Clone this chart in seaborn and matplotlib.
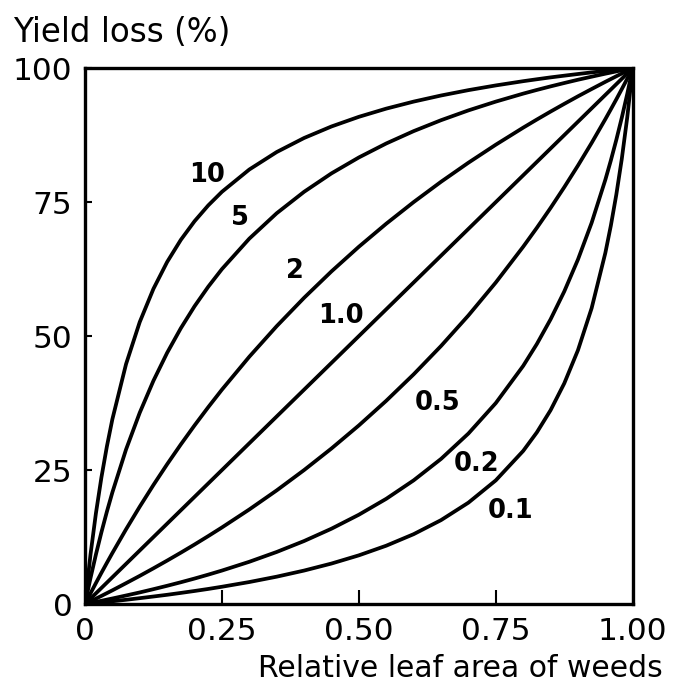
import matplotlib
matplotlib.use("Agg")
import matplotlib.pyplot as plt
import seaborn as sns
import pandas as pd

# Relative leaf area of weeds (x) and yield loss (%) for each relative damage coefficient q
leaf_area = [0, 0.01, 0.02, 0.03, 0.04, 0.05, 0.075, 0.10, 0.125, 0.15, 0.175, 0.20,
             0.225, 0.25, 0.30, 0.35, 0.40, 0.45, 0.50, 0.55, 0.60, 0.65, 0.70, 0.75,
             0.80, 0.825, 0.85, 0.875, 0.90, 0.925, 0.95, 0.96, 0.97, 0.98, 0.99, 1.00]

loss_q10 = [0, 9.17, 16.95, 23.62, 29.41, 34.48, 44.78, 52.63, 58.82, 63.83, 67.96, 71.43,
            74.38, 76.92, 81.08, 84.34, 86.96, 89.11, 90.91, 92.44, 93.75, 94.89, 95.89, 96.77,
            97.56, 97.92, 98.27, 98.59, 98.90, 99.20, 99.48, 99.59, 99.69, 99.80, 99.90, 100]
loss_q5 = [0, 4.81, 9.26, 13.39, 17.24, 20.83, 28.85, 35.71, 41.67, 46.88, 51.47, 55.56,
           59.21, 62.50, 68.18, 72.92, 76.92, 80.36, 83.33, 85.94, 88.24, 90.28, 92.11, 93.75,
           95.24, 95.93, 96.59, 97.22, 97.83, 98.40, 98.96, 99.17, 99.39, 99.59, 99.80, 100]
loss_q2 = [0, 1.98, 3.92, 5.83, 7.69, 9.52, 13.95, 18.18, 22.22, 26.09, 29.79, 33.33,
           36.73, 40.00, 46.15, 51.85, 57.14, 62.07, 66.67, 70.97, 75.00, 78.79, 82.35, 85.71,
           88.89, 90.41, 91.89, 93.33, 94.74, 96.10, 97.44, 97.96, 98.48, 98.99, 99.50, 100]
loss_q1 = [0, 1, 2, 3, 4, 5, 7.5, 10, 12.5, 15, 17.5, 20,
           22.5, 25, 30, 35, 40, 45, 50, 55, 60, 65, 70, 75,
           80, 82.5, 85, 87.5, 90, 92.5, 95, 96, 97, 98, 99, 100]
loss_q05 = [0, 0.50, 1.01, 1.52, 2.04, 2.56, 3.90, 5.26, 6.67, 8.11, 9.59, 11.11,
            12.68, 14.29, 17.65, 21.21, 25.00, 29.03, 33.33, 37.93, 42.86, 48.15, 53.85, 60.00,
            66.67, 70.21, 73.91, 77.78, 81.82, 86.05, 90.48, 92.31, 94.17, 96.08, 98.02, 100]
loss_q02 = [0, 0.20, 0.41, 0.61, 0.83, 1.04, 1.60, 2.17, 2.78, 3.41, 4.07, 4.76,
            5.49, 6.25, 7.89, 9.72, 11.76, 14.06, 16.67, 19.64, 23.08, 27.08, 31.82, 37.50,
            44.44, 48.53, 53.13, 58.33, 64.29, 71.15, 79.17, 82.76, 86.61, 90.74, 95.19, 100]
loss_q01 = [0, 0.10, 0.20, 0.31, 0.41, 0.52, 0.80, 1.10, 1.41, 1.73, 2.08, 2.44,
            2.82, 3.23, 4.11, 5.11, 6.25, 7.56, 9.09, 10.89, 13.04, 15.66, 18.92, 23.08,
            28.57, 32.04, 36.17, 41.18, 47.37, 55.22, 65.52, 70.59, 76.38, 83.05, 90.83, 100]

curve_labels = ["10", "5", "2", "1.0", "0.5", "0.2", "0.1"]
curve_values = [loss_q10, loss_q5, loss_q2, loss_q1, loss_q05, loss_q02, loss_q01]
label_x = [0.223, 0.283, 0.384, 0.468, 0.644, 0.715, 0.777]
label_y = [80.0, 72.0, 62.2, 53.8, 37.6, 26.2, 17.4]

x_ticks = [0, 0.25, 0.50, 0.75, 1.00]
x_ticklabels = ["0", "0.25", "0.50", "0.75", "1.00"]
y_ticks = [0, 25, 50, 75, 100]
y_ticklabels = ["0", "25", "50", "75", "100"]

sns.set_style("white")
plt.rcParams["font.family"] = ["DejaVu Sans"]
plt.rcParams["text.color"] = "black"
plt.rcParams["xtick.color"] = "black"
plt.rcParams["ytick.color"] = "black"

frames = []
for name, vals in zip(curve_labels, curve_values):
    frames.append(pd.DataFrame({"area": leaf_area, "loss": vals, "q": name}))
df = pd.concat(frames, ignore_index=True)

fig = plt.figure(figsize=(6.76, 6.88), dpi=100)
ax = fig.add_axes([0.1257, 0.122, 0.8103, 0.779])

sns.lineplot(data=df, x="area", y="loss", units="q", estimator=None,
             color="black", linewidth=2.7, ax=ax, legend=False)

for txt, lx, ly in zip(curve_labels, label_x, label_y):
    ax.text(lx, ly, txt, fontsize=18.5, fontweight="bold", ha="center", va="center")

ax.set_xlim(0, 1)
ax.set_ylim(0, 100)
ax.set_xticks(x_ticks)
ax.set_xticklabels(x_ticklabels)
ax.set_yticks(y_ticks)
ax.set_yticklabels(y_ticklabels)
ax.tick_params(axis="x", direction="in", length=10, width=1.5, labelsize=22.5, pad=9)
ax.tick_params(axis="y", direction="in", length=5, width=1.5, labelsize=22.5, pad=9)
ax.tick_params(left=True, bottom=True)
for side in ax.spines.values():
    side.set_linewidth(2.4)
    side.set_color("black")

ax.set_xlabel("")
ax.set_ylabel("")
fig.text(0.98, 0.029, "Relative leaf area of weeds", fontsize=21.5, ha="right", va="center")
fig.text(0.02, 0.953, "Yield loss (%)", fontsize=23.5, ha="left", va="center")

fig.savefig("out.png", dpi=100)
